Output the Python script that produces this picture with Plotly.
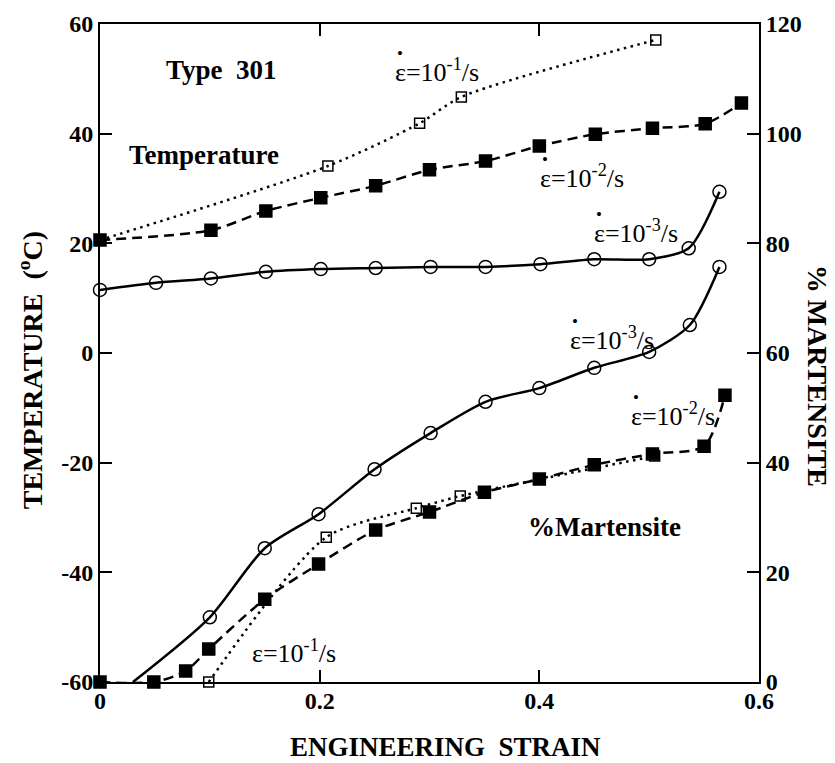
import plotly.graph_objects as go

# ---- data: engineering strain vs. temperature (deg C) ----
t1_strain = [0.0, 0.2075, 0.291, 0.329, 0.506]
t1_temp = [20.6, 34.1, 41.9, 46.7, 57.1]

t2_strain = [0.0, 0.101, 0.151, 0.201, 0.251, 0.300, 0.351, 0.400, 0.451, 0.503, 0.551, 0.584]
t2_temp = [20.6, 22.4, 25.9, 28.3, 30.5, 33.4, 35.0, 37.75, 39.9, 41.0, 41.8, 45.6]

t3_strain = [0.0, 0.051, 0.101, 0.151, 0.201, 0.251, 0.301, 0.351, 0.401, 0.450, 0.500, 0.536, 0.564]
t3_temp = [11.5, 12.8, 13.6, 14.8, 15.3, 15.5, 15.7, 15.7, 16.2, 17.1, 17.1, 19.1, 29.4]

# ---- data: engineering strain vs. % martensite ----
m1_strain = [0.099, 0.206, 0.288, 0.328, 0.505]
m1_pct = [0.0, 26.4, 31.7, 33.9, 41.2]

m2_strain = [0.0, 0.049, 0.078, 0.099, 0.150, 0.199, 0.251, 0.300, 0.350, 0.400, 0.450, 0.503, 0.550, 0.569]
m2_pct = [0.0, 0.0, 2.0, 6.0, 15.1, 21.5, 27.7, 31.0, 34.6, 37.0, 39.6, 41.6, 43.0, 52.3]

m3_strain = [0.100, 0.150, 0.199, 0.250, 0.301, 0.351, 0.400, 0.450, 0.500, 0.537, 0.564]
m3_pct = [11.8, 24.4, 30.6, 38.8, 45.4, 51.1, 53.6, 57.3, 60.2, 65.1, 75.7]
m3_onset_strain = 0.03  # transformation onset for the slowest rate (curve start)

# ---- axis ticks ----
x_ticks = [0, 0.2, 0.4, 0.6]
x_tick_labels = ["0", "0.2", "0.4", "0.6"]
temp_ticks = [-60, -40, -20, 0, 20, 40, 60]
temp_tick_labels = ["-60", "-40", "-20", "0", "20", "40", "60"]
mart_ticks = [0, 20, 40, 60, 80, 100, 120]
mart_tick_labels = ["0", "20", "40", "60", "80", "100", "120"]

SERIF = "Liberation Serif"

DOTTED = "2.5px,4.5px"
DASHED = "10px,6px"

fig = go.Figure()


def add_series(xs, ys, dash, symbol, size, yaxis="y", line_xs=None, line_ys=None):
    lx = xs if line_xs is None else line_xs
    ly = ys if line_ys is None else line_ys
    fig.add_trace(go.Scatter(
        x=lx, y=ly, mode="lines", yaxis=yaxis,
        line=dict(color="black", width=2.5, dash=dash, shape="spline", smoothing=0.75),
        hoverinfo="skip", showlegend=False,
    ))
    fig.add_trace(go.Scatter(
        x=xs, y=ys, mode="markers", yaxis=yaxis, cliponaxis=False,
        marker=dict(symbol=symbol, size=size, color="black",
                    line=dict(color="black", width=1.5)),
        showlegend=False,
    ))


# temperature curves (left axis)
add_series(t1_strain, t1_temp, DOTTED, "square-open", 10)
add_series(t2_strain, t2_temp, DASHED, "square", 12)
add_series(t3_strain, t3_temp, "solid", "circle-open", 13)

# martensite curves (right axis)
add_series(m1_strain, m1_pct, DOTTED, "square-open", 10, yaxis="y2")
add_series(m2_strain, m2_pct, DASHED, "square", 12, yaxis="y2")
add_series(m3_strain, m3_pct, "solid", "circle-open", 13, yaxis="y2",
           line_xs=[m3_onset_strain] + m3_strain, line_ys=[0.0] + m3_pct)


def bold(labels):
    return ["<b>" + s + "</b>" for s in labels]


def axis_style():
    return dict(
        ticks="inside", ticklen=12, tickwidth=2, tickcolor="black",
        showline=True, linecolor="black", linewidth=2,
        showgrid=False, zeroline=False,
        tickfont=dict(family=SERIF, size=24, color="black", weight="bold"),
    )


fig.update_layout(
    width=835, height=763,
    margin=dict(l=100, r=76, t=24, b=81),
    paper_bgcolor="white", plot_bgcolor="white",
    showlegend=False,
    xaxis=dict(range=[0, 0.6], tickvals=x_ticks, ticktext=bold(x_tick_labels),
               mirror="ticks", ticklabelstandoff=-4, **axis_style()),
    yaxis=dict(range=[-60, 60], tickvals=temp_ticks, ticktext=bold(temp_tick_labels),
               mirror=True, **axis_style()),
    yaxis2=dict(range=[0, 120], tickvals=mart_ticks, ticktext=bold(mart_tick_labels),
                overlaying="y", side="right", **axis_style()),
)

label_font = dict(family=SERIF, size=26, color="black")
bold_font = dict(family=SERIF, size=27, color="black")

# strain-rate labels: (left x, y, axis, exponent, dotted epsilon?)
rate_labels = [
    (0.2668, 51.6, "y", "-1", True),
    (0.3988, 32.1, "y", "-2", True),
    (0.4480, 22.1, "y", "-3", True),
    (0.4261, 62.7, "y2", "-3", True),
    (0.4817, 48.7, "y2", "-2", True),
    (0.1366, 5.5, "y2", "-1", False),
]

annotations = []
for x, y, yref, exp, dotted in rate_labels:
    annotations.append(dict(
        x=x, y=y, xref="x", yref=yref, xanchor="left", yanchor="middle",
        text="\u03b5=10<sup>" + exp + "</sup>/s", font=label_font, showarrow=False))
    if dotted:
        # time-derivative dot over the epsilon
        annotations.append(dict(
            x=x, y=y, xref="x", yref=yref, xanchor="center", yanchor="middle",
            xshift=7, yshift=17, text="\u2022",
            font=dict(family=SERIF, size=17, color="black"), showarrow=False))

annotations += [
    dict(x=0.111, y=51.6, yref="y", text="<b>Type  301</b>", font=bold_font),
    dict(x=0.095, y=36.1, yref="y", text="<b>Temperature</b>", font=bold_font),
    dict(x=0.459, y=28.3, yref="y2", text="<b>%Martensite</b>", font=bold_font),
]
for a in annotations[-3:]:
    a.update(xref="x", showarrow=False, xanchor="center", yanchor="middle")

# axis titles
annotations += [
    dict(xref="paper", yref="paper", x=-0.106, y=0.474,
         text="<b>TEMPERATURE  (<sup>o</sup>C)</b>", textangle=-90,
         font=dict(family=SERIF, size=28, color="black"),
         showarrow=False, xanchor="center", yanchor="middle"),
    dict(xref="paper", yref="paper", x=1.090, y=0.465,
         text="<b>% MARTENSITE</b>", textangle=90,
         font=dict(family=SERIF, size=28, color="black"),
         showarrow=False, xanchor="center", yanchor="middle"),
    dict(xref="paper", yref="paper", x=0.525, y=-0.099,
         text="<b>ENGINEERING  STRAIN</b>",
         font=dict(family=SERIF, size=27, color="black"),
         showarrow=False, xanchor="center", yanchor="middle"),
]
fig.update_layout(annotations=annotations)

fig.write_html("out.html")
